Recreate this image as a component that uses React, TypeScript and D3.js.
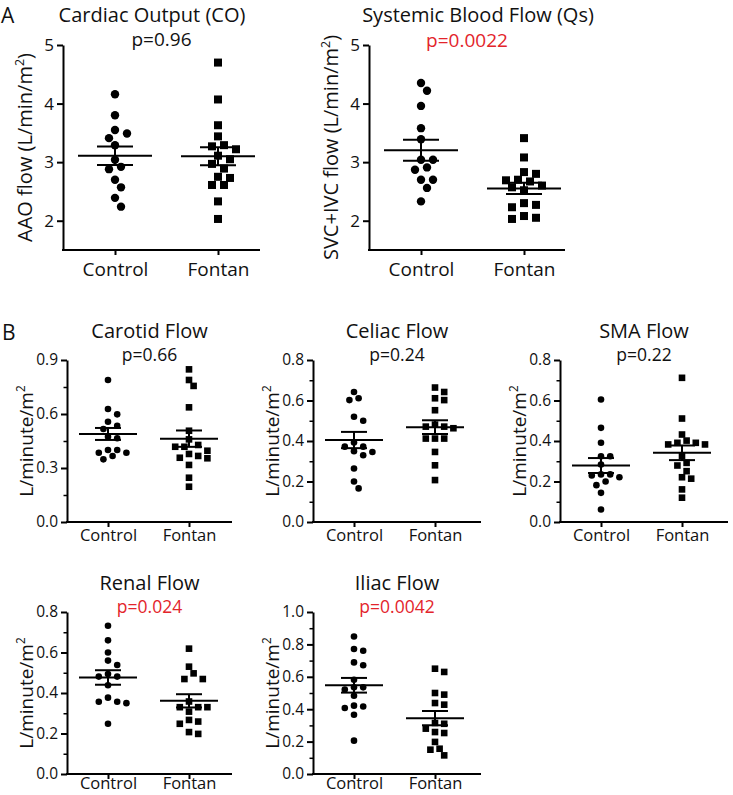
import React, { useEffect, useRef } from "react";
import * as d3 from "d3";

// groups on every x axis
const groups = ["Control", "Fontan"];

// A: cardiac output / systemic blood flow (L/min/m2)
const coControl = [4.16, 3.8, 3.55, 3.49, 3.41, 3.29, 3.04, 2.92, 2.88, 2.7, 2.57, 2.39, 2.24];
const coFontan = [4.7, 4.07, 3.63, 3.44, 3.29, 3.27, 3.22, 3.11, 3.05, 2.97, 2.89, 2.75, 2.73, 2.61, 2.61, 2.33, 2.03];
const qsControl = [4.35, 4.22, 3.96, 3.58, 3.39, 3.04, 3.04, 2.91, 2.87, 2.7, 2.7, 2.56, 2.33];
const qsFontan = [3.41, 3.08, 2.83, 2.8, 2.7, 2.69, 2.67, 2.6, 2.57, 2.52, 2.3, 2.27, 2.23, 2.08, 2.05, 2.03];

// B: regional flows (L/minute/m2)
const carotidControl = [0.789, 0.628, 0.598, 0.557, 0.535, 0.517, 0.474, 0.465, 0.4, 0.4, 0.385, 0.385, 0.367, 0.348];
const carotidFontan = [0.848, 0.789, 0.756, 0.637, 0.507, 0.459, 0.428, 0.418, 0.418, 0.396, 0.378, 0.367, 0.357, 0.354, 0.317, 0.246, 0.196];
const celiacControl = [0.642, 0.611, 0.602, 0.52, 0.5, 0.392, 0.372, 0.372, 0.35, 0.346, 0.33, 0.264, 0.2, 0.166];
const celiacFontan = [0.664, 0.642, 0.611, 0.602, 0.552, 0.481, 0.471, 0.471, 0.463, 0.412, 0.412, 0.412, 0.346, 0.28, 0.207];
const smaControl = [0.605, 0.465, 0.391, 0.325, 0.325, 0.284, 0.235, 0.235, 0.23, 0.221, 0.2, 0.182, 0.144, 0.062];
const smaFontan = [0.712, 0.511, 0.432, 0.402, 0.391, 0.391, 0.383, 0.383, 0.325, 0.292, 0.279, 0.251, 0.221, 0.214, 0.161, 0.12];
const renalControl = [0.732, 0.66, 0.6, 0.56, 0.538, 0.494, 0.481, 0.481, 0.438, 0.377, 0.357, 0.357, 0.35, 0.248];
const renalFontan = [0.619, 0.53, 0.497, 0.469, 0.469, 0.358, 0.33, 0.33, 0.33, 0.308, 0.267, 0.259, 0.248, 0.207, 0.198];
const iliacControl = [0.849, 0.772, 0.761, 0.689, 0.671, 0.582, 0.535, 0.535, 0.521, 0.483, 0.422, 0.417, 0.407, 0.366, 0.206];
const iliacFontan = [0.65, 0.63, 0.5, 0.49, 0.438, 0.428, 0.315, 0.31, 0.28, 0.259, 0.253, 0.198, 0.156, 0.15, 0.115];

// tick values
const ticksA = [2, 3, 4, 5];
const ticksCarotid = [0, 0.3, 0.6, 0.9];
const minorCarotid = [0.15, 0.45, 0.75];
const ticks08 = [0, 0.2, 0.4, 0.6, 0.8];
const minor08 = [0.1, 0.3, 0.5, 0.7];
const ticks10 = [0, 0.2, 0.4, 0.6, 0.8, 1.0];
const minor10 = [0.1, 0.3, 0.5, 0.7, 0.9];

const FONT = "'Open Sans', 'Noto Sans', sans-serif";
const RED = "#e3242b";

const big = { tick: 17, xlab: 19, title: 20, p: 19, ylab: 20, r: 4.2, sq: 8, half: 6, minDist: 9.2, meanHalf: 37, semHalf: 18, cOff: 52, fOff: 155, labelOff: 38, xpad: 8 };
const small = { tick: 15.5, xlab: 16.5, title: 20, p: 17.5, ylab: 19, r: 3.3, sq: 6.6, half: 4.6, minDist: 7.4, meanHalf: 29, semHalf: 13, cOff: 41, fOff: 122, labelOff: 41, xpad: 2 };

const panels = [
  { title: "Cardiac Output (CO)", p: "p=0.96", red: false, ylab: "AAO flow (L/min/m", ylabEnd: ")", control: coControl, fontan: coFontan, domain: [1.5, 5], ticks: ticksA, minor: [], fmt: "d", x0: 63, x1: 260, y0: 45, y1: 250, titleX: 152, titleY: 22, pY: 46, s: big },
  { title: "Systemic Blood Flow (Qs)", p: "p=0.0022", red: true, ylab: "SVC+IVC flow (L/min/m", ylabEnd: ")", control: qsControl, fontan: qsFontan, domain: [1.5, 5], ticks: ticksA, minor: [], fmt: "d", x0: 369, x1: 565, y0: 45, y1: 250, titleX: 478, titleY: 22, pY: 47, s: big },
  { title: "Carotid Flow", p: "p=0.66", red: false, ylab: "L/minute/m", ylabEnd: "", control: carotidControl, fontan: carotidFontan, domain: [0, 0.9], ticks: ticksCarotid, minor: minorCarotid, fmt: ".1f", x0: 67, x1: 232, y0: 360, y1: 522, s: small },
  { title: "Celiac Flow", p: "p=0.24", red: false, ylab: "L/minute/m", ylabEnd: "", control: celiacControl, fontan: celiacFontan, domain: [0, 0.8], ticks: ticks08, minor: minor08, fmt: ".1f", x0: 313, x1: 481, y0: 360, y1: 522, s: small },
  { title: "SMA Flow", p: "p=0.22", red: false, ylab: "L/minute/m", ylabEnd: "", control: smaControl, fontan: smaFontan, domain: [0, 0.8], ticks: ticks08, minor: minor08, fmt: ".1f", x0: 560, x1: 728, y0: 360, y1: 522, s: small },
  { title: "Renal Flow", p: "p=0.024", red: true, ylab: "L/minute/m", ylabEnd: "", control: renalControl, fontan: renalFontan, domain: [0, 0.8], ticks: ticks08, minor: minor08, fmt: ".1f", x0: 67, x1: 232, y0: 612, y1: 774, xpad: -1.5, s: small },
  { title: "Iliac Flow", p: "p=0.0042", red: true, ylab: "L/minute/m", ylabEnd: "", control: iliacControl, fontan: iliacFontan, domain: [0, 1.0], ticks: ticks10, minor: minor10, fmt: ".1f", x0: 313, x1: 481, y0: 612, y1: 774, xpad: -1.5, s: small },
];

// simple swarm: place points top-down, nudging sideways until no overlap
function swarm(vals: number[], y: (v: number) => number, half: number, minDist: number) {
  const order = vals.map((v, i) => i).sort((a, b) => vals[b] - vals[a]);
  const placed: { dx: number; py: number }[] = [];
  const out: { dx: number; py: number }[] = new Array(vals.length);
  order.forEach(i => {
    const py = y(vals[i]);
    for (let k = 0; k < 30; k++) {
      const step = k === 0 ? 0 : (k % 2 === 1 ? 1 : -1) * Math.ceil(k / 2);
      const dx = step * half;
      const ok = placed.every(p => Math.hypot(p.dx - dx, p.py - py) >= minDist);
      if (ok) {
        placed.push({ dx, py });
        out[i] = { dx, py };
        break;
      }
    }
  });
  return out;
}

function drawPanel(svg: any, p: any) {
  const s = p.s;
  const g = svg.append("g").attr("font-family", FONT);
  const y = d3.scaleLinear().domain(p.domain).range([p.y1, p.y0]);
  const x = d3.scalePoint().domain(groups).range([p.x0 + s.cOff, p.x0 + s.fOff]);

  // y axis
  const yAxis = d3.axisLeft(y).tickValues(p.ticks).tickFormat(d3.format(p.fmt)).tickSize(6).tickSizeOuter(0).tickPadding(3);
  const ya = g.append("g").attr("transform", `translate(${p.x0},0)`).call(yAxis);
  ya.attr("font-family", FONT).attr("font-size", s.tick);
  ya.selectAll("path, line").attr("stroke", "#000").attr("stroke-width", 2);
  ya.selectAll("text").attr("fill", "#111");

  if (p.minor.length) {
    const ma = g.append("g").attr("transform", `translate(${p.x0},0)`)
      .call(d3.axisLeft(y).tickValues(p.minor).tickFormat(() => "").tickSize(3.5).tickSizeOuter(0));
    ma.select(".domain").remove();
    ma.selectAll("line").attr("stroke", "#000").attr("stroke-width", 1.5);
  }

  // x axis
  g.append("line")
    .attr("x1", p.x0 - 1).attr("x2", p.x1)
    .attr("y1", p.y1).attr("y2", p.y1)
    .attr("stroke", "#000").attr("stroke-width", 2);
  const xa = g.append("g").attr("transform", `translate(0,${p.y1})`)
    .call(d3.axisBottom(x).tickSize(5).tickPadding(p.xpad ?? s.xpad));
  xa.select(".domain").remove();
  xa.attr("font-family", FONT).attr("font-size", s.xlab);
  xa.selectAll("line").attr("stroke", "#000").attr("stroke-width", 2);
  xa.selectAll("text").attr("fill", "#111");

  // points
  const sets = [p.control, p.fontan];
  sets.forEach((vals: number[], gi: number) => {
    const cx = x(groups[gi]) as number;
    const pos = swarm(vals, y, s.half, s.minDist);
    if (gi === 0) {
      g.append("g").selectAll("circle").data(pos).join("circle")
        .attr("cx", (d: any) => cx + d.dx).attr("cy", (d: any) => d.py)
        .attr("r", s.r).attr("fill", "#000");
    } else {
      g.append("g").selectAll("rect").data(pos).join("rect")
        .attr("x", (d: any) => cx + d.dx - s.sq / 2).attr("y", (d: any) => d.py - s.sq / 2)
        .attr("width", s.sq).attr("height", s.sq).attr("fill", "#000");
    }

    // mean +/- SEM
    const m = d3.mean(vals) as number;
    const sem = (d3.deviation(vals) as number) / Math.sqrt(vals.length);
    const lines = [
      [cx - s.meanHalf, y(m), cx + s.meanHalf, y(m)],
      [cx - s.semHalf, y(m + sem), cx + s.semHalf, y(m + sem)],
      [cx - s.semHalf, y(m - sem), cx + s.semHalf, y(m - sem)],
      [cx, y(m + sem), cx, y(m - sem)],
    ];
    g.append("g").selectAll("line").data(lines).join("line")
      .attr("x1", (d: number[]) => d[0]).attr("y1", (d: number[]) => d[1])
      .attr("x2", (d: number[]) => d[2]).attr("y2", (d: number[]) => d[3])
      .attr("stroke", "#000").attr("stroke-width", 2);
  });

  // titles
  const cxMid = (p.x0 + p.x1) / 2;
  g.append("text")
    .attr("x", p.titleX ?? cxMid).attr("y", p.titleY ?? p.y0 - 22)
    .attr("text-anchor", "middle").attr("font-size", s.title).attr("fill", "#111")
    .text(p.title);
  g.append("text")
    .attr("x", cxMid).attr("y", p.pY ?? p.y0 + 1)
    .attr("text-anchor", "middle").attr("font-size", s.p)
    .attr("fill", p.red ? RED : "#111")
    .text(p.p);

  // y label with superscript 2
  const yl = g.append("text")
    .attr("transform", `translate(${p.x0 - s.labelOff},${(p.y0 + p.y1) / 2}) rotate(-90)`)
    .attr("text-anchor", "middle").attr("dy", "0.35em")
    .attr("font-size", s.ylab).attr("fill", "#111");
  yl.append("tspan").text(p.ylab);
  yl.append("tspan").attr("font-size", s.ylab * 0.62).attr("dy", -s.ylab * 0.42).text("2");
  if (p.ylabEnd) yl.append("tspan").attr("dy", s.ylab * 0.42).text(p.ylabEnd);
}

const App = () => {
  const svgRef = useRef<SVGSVGElement>(null);

  useEffect(() => {
    const svg = d3.select(svgRef.current);
    svg.selectAll("*").remove();
    svg.append("rect").attr("width", 733).attr("height", 795).attr("fill", "#fff");

    panels.forEach(p => drawPanel(svg, p));

    // panel letters
    svg.append("text").attr("x", 1).attr("y", 23).attr("font-family", FONT).attr("font-size", 21).attr("fill", "#111").text("A");
    svg.append("text").attr("x", 2).attr("y", 340).attr("font-family", FONT).attr("font-size", 21).attr("fill", "#111").text("B");
  }, []);

  return (
    <svg ref={svgRef} width={733} height={795} style={{ position: "absolute", left: 0, top: 0 }} />
  );
};

export default App;
